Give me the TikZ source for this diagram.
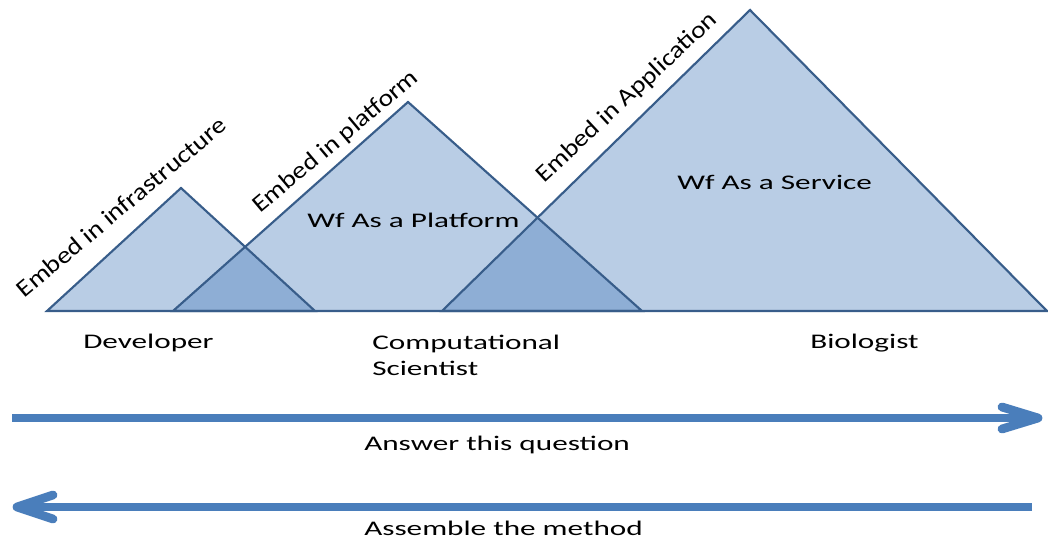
\documentclass[tikz,border=0pt]{standalone}
\usepackage{fontspec}
\newfontfamily\lblfont{Carlito}[FakeStretch=1.5]
\newfontfamily\slantfont{Carlito}[FakeStretch=1.15]
\definecolor{triFill}{HTML}{4F81BD}
\definecolor{triLine}{HTML}{385D8A}
\definecolor{arrowBlue}{HTML}{4A7EBB}
\begin{document}
\begin{tikzpicture}[x=0.75pt,y=-0.75pt,
  tri/.style={fill=triFill, fill opacity=0.4},
  edge/.style={draw=triLine, line width=1.6pt, line join=miter},
  lbl/.style={font=\lblfont\fontsize{15.6pt}{18pt}\selectfont, inner sep=0pt, anchor=base west, text=black},
  tilted/.style={font=\slantfont\fontsize{18pt}{20pt}\selectfont, inner sep=0pt, text=black},
  shaft/.style={draw=arrowBlue, line width=6.6pt, line cap=butt},
  barb/.style={draw=arrowBlue, line width=6.6pt, line cap=round, line join=round},
]
\useasboundingbox (0,0) rectangle (1048,539);

% three overlapping layers
\coordinate (A1) at (47,311);  \coordinate (P1) at (181,188); \coordinate (B1) at (315,311);
\coordinate (A2) at (173,311); \coordinate (P2) at (408,102); \coordinate (B2) at (642,311);
\coordinate (A3) at (442,311); \coordinate (P3) at (750,10);  \coordinate (B3) at (1047,311);

\fill[tri] (A1) -- (P1) -- (B1) -- cycle;
\fill[tri] (A2) -- (P2) -- (B2) -- cycle;
\fill[tri] (A3) -- (P3) -- (B3) -- cycle;
\draw[edge] (A1) -- (P1) -- (B1) -- cycle;
\draw[edge] (A2) -- (P2) -- (B2) -- cycle;
\draw[edge] (A3) -- (P3) -- (B3) -- cycle;

% labels along the left slopes
\node[tilted, rotate=40] (emb1) at (121,207) {Embed in infrastructure};
\node[tilted, rotate=40] (emb2) at (336,142) {Embed in platform};
\node[tilted, rotate=43] (emb3) at (627,98) {Embed in Application};

% labels inside the layers
\node[lbl] (wfp) at (307,227) {Wf As a Platform};
\node[lbl] (wfs) at (677,189) {Wf As a Service};

% roles
\node[lbl] (dev) at (83,348) {Developer};
\node[lbl] (comp1) at (372,349) {Computational};
\node[lbl] (comp2) at (372,375) {Scientist};
\node[lbl] (bio) at (810,348) {Biologist};

% direction arrows
\coordinate (r0) at (12,418);   \coordinate (r1) at (1038,418);
\coordinate (l0) at (1032,507); \coordinate (l1) at (17,507);
\draw[shaft] (r0) -- (r1);
\draw[barb] ([shift={(-36,-11)}]r1) -- (r1) -- ([shift={(-36,11)}]r1);
\draw[shaft] (l0) -- (l1);
\draw[barb] ([shift={(36,-12)}]l1) -- (l1) -- ([shift={(36,12)}]l1);

\node[lbl] (q) at (364,450) {Answer this question};
\node[lbl] (m) at (364,535) {Assemble the method};
\end{tikzpicture}
\end{document}
